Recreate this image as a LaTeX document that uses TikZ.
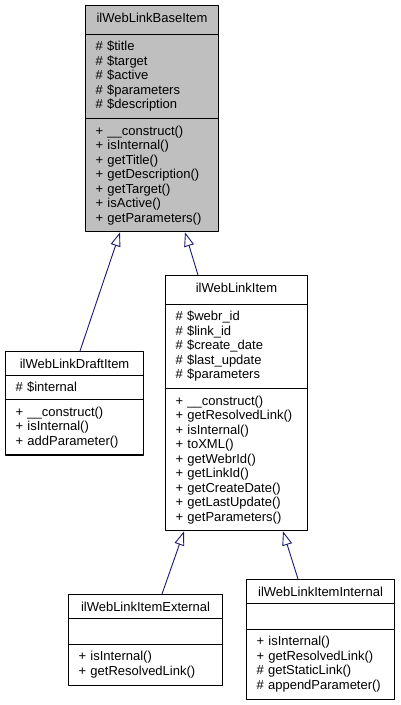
\documentclass[tikz,border=0pt]{standalone}
\usepackage{fontspec}
\setmainfont{Liberation Sans}
\usetikzlibrary{shapes.multipart}
\usetikzlibrary{arrows.meta}

\definecolor{edgeblue}{RGB}{25,25,112}
\definecolor{basegray}{RGB}{191,191,191}

\begin{document}
\begin{tikzpicture}[x=1pt,y=-1pt,line join=round,
  classbox/.style={rectangle split,rectangle split parts=3,draw=black,line width=1.1pt,
    anchor=north west,align=left,inner xsep=10pt,inner ysep=6.5pt,
    font=\fontsize{13}{14.5}\selectfont},
  inherit/.style={draw=edgeblue,line width=0.9pt,-{Triangle[open,length=14pt,width=10pt]}}]
\useasboundingbox (0,0) rectangle (400,705);
% classes
\node[classbox,fill=basegray,text width=113pt] (base) at (85,5) {\makebox[\linewidth]{\strut ilWebLinkBaseItem}
  \nodepart{two}\# \$title\\\# \$target\\\# \$active\\\# \$parameters\\\# \$description
  \nodepart{three}+ \_\_construct()\\+ isInternal()\\+ getTitle()\\+ getDescription()\\+ getTarget()\\+ isActive()\\+ getParameters()};
\node[classbox,text width=118pt] (draft) at (5,351) {\makebox[\linewidth]{ilWebLinkDraftItem}
  \nodepart{two}\# \$internal
  \nodepart{three}+ \_\_construct()\\+ isInternal()\\+ addParameter()};
\node[classbox,text width=122pt] (item) at (165,275) {\makebox[\linewidth]{\strut ilWebLinkItem}
  \nodepart{two}\# \$webr\_id\\\# \$link\_id\\\# \$create\_date\\\# \$last\_update\\\# \$parameters
  \nodepart{three}+ \_\_construct()\\+ getResolvedLink()\\+ isInternal()\\+ toXML()\\+ getWebrId()\\+ getLinkId()\\+ getCreateDate()\\+ getLastUpdate()\\+ getParameters()};
\node[classbox,text width=134pt] (external) at (68,594) {\makebox[\linewidth]{ilWebLinkItemExternal}
  \nodepart{two}\vphantom{()}
  \nodepart{three}+ isInternal()\\+ getResolvedLink()};
\node[classbox,text width=128pt] (internal) at (246,579) {\makebox[\linewidth]{ilWebLinkItemInternal}
  \nodepart{two}\vphantom{()}
  \nodepart{three}+ isInternal()\\+ getResolvedLink()\\\# getStaticLink()\\\# appendParameter()};
% inheritance
\draw[inherit] ([xshift=75pt]draft.north west) -- ([xshift=35pt]base.south west);
\draw[inherit] ([xshift=33pt]item.north west) -- ([xshift=100pt]base.south west);
\draw[inherit] ([xshift=94pt]external.north west) -- ([xshift=19pt]item.south west);
\draw[inherit] ([xshift=52pt]internal.north west) -- ([xshift=118pt]item.south west);
\end{tikzpicture}
\end{document}
